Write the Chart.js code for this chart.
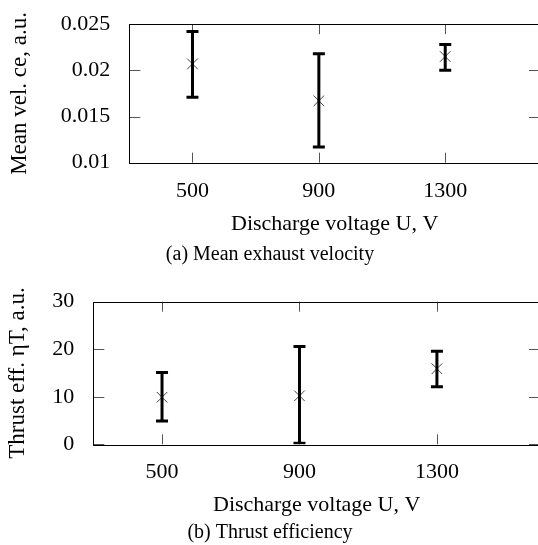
<!DOCTYPE html>
<html>
<head>
<meta charset="utf-8">
<script src="https://cdn.jsdelivr.net/npm/chart.js@4.4.0/dist/chart.umd.min.js"></script>
<style>
html, body { margin: 0; padding: 0; background: #fff; overflow: hidden; width: 538px; height: 545px; }
canvas { display: block; }
</style>
</head>
<body>
<canvas id="velChart" width="572" height="270" style="width:572px;height:270px"></canvas>
<canvas id="effChart" width="572" height="275" style="width:572px;height:275px"></canvas>
<script>
var voltages = [500, 900, 1300];

// (a) mean exhaust velocity
var velMean = [0.0207, 0.0167, 0.0215];
var velLow = [0.0171, 0.0117, 0.0200];
var velHigh = [0.0242, 0.0218, 0.0228];
var velTicks = [0.01, 0.015, 0.02, 0.025];
var velTickLabels = ['0.01', '0.015', '0.02', '0.025'];

// (b) thrust efficiency
var effMean = [9.9, 10.2, 15.9];
var effLow = [4.9, 0.2, 12.1];
var effHigh = [15.1, 20.6, 19.6];
var effTicks = [0, 10, 20, 30];
var effTickLabels = ['0', '10', '20', '30'];

var serif = 'Liberation Serif, Times New Roman, serif';

// box around the plot with inward tick marks, pgfplots style
var framePlugin = {
  id: 'frame',
  beforeDatasetsDraw: function(chart) {
    var ctx = chart.ctx, a = chart.chartArea;
    var xs = chart.scales.x, ys = chart.scales.y;
    ctx.save();
    ctx.strokeStyle = '#555';
    ctx.lineWidth = 1;
    ctx.beginPath();
    xs.ticks.forEach(function(t) {
      var px = Math.round(xs.getPixelForValue(t.value)) + 0.5;
      ctx.moveTo(px, a.bottom); ctx.lineTo(px, a.bottom - 10);
      ctx.moveTo(px, a.top); ctx.lineTo(px, a.top + 10);
    });
    ys.ticks.forEach(function(t) {
      var py = Math.round(ys.getPixelForValue(t.value)) + 0.5;
      ctx.moveTo(a.left, py); ctx.lineTo(a.left + 11, py);
      ctx.moveTo(a.right, py); ctx.lineTo(a.right - 11, py);
    });
    ctx.stroke();
    ctx.strokeStyle = '#000';
    ctx.strokeRect(Math.round(a.left) + 0.5, Math.round(a.top) + 0.5,
      Math.round(a.right - a.left), Math.round(a.bottom - a.top));
    ctx.restore();
  }
};

function barSegments(lows, highs) {
  var pts = [];
  voltages.forEach(function(v, i) {
    pts.push({x: v, y: lows[i]}, {x: v, y: highs[i]}, {x: v, y: null});
  });
  return pts;
}

function capPoints(lows, highs) {
  var pts = [];
  voltages.forEach(function(v, i) {
    pts.push({x: v, y: lows[i]}, {x: v, y: highs[i]});
  });
  return pts;
}

function makeChart(id, cfg) {
  var ctx = document.getElementById(id).getContext('2d');
  return new Chart(ctx, {
    type: 'scatter',
    data: {
      datasets: [{
        data: barSegments(cfg.low, cfg.high),
        showLine: true,
        spanGaps: false,
        borderColor: '#000',
        borderWidth: 3,
        pointRadius: 0
      }, {
        data: capPoints(cfg.low, cfg.high),
        pointStyle: 'line',
        pointRadius: 6,
        borderColor: '#000',
        borderWidth: 3
      }, {
        data: voltages.map(function(v, i) { return {x: v, y: cfg.mean[i]}; }),
        pointStyle: 'crossRot',
        pointRadius: 7.5,
        borderColor: '#444',
        borderWidth: 1
      }]
    },
    options: {
      responsive: false,
      animation: false,
      layout: { padding: { top: cfg.top, right: 32, left: 0, bottom: 0 } },
      plugins: {
        legend: { display: false },
        tooltip: { enabled: false },
        title: {
          display: true,
          position: 'bottom',
          text: cfg.caption,
          color: '#000',
          font: { family: serif, size: 20, weight: 'normal' },
          padding: { top: 0, bottom: cfg.capPad }
        }
      },
      scales: {
        x: {
          type: 'linear',
          min: 300,
          max: 1600,
          afterBuildTicks: function(s) { s.ticks = voltages.map(function(v) { return {value: v}; }); },
          afterFit: function(s) { s.height = cfg.xh; },
          grid: { display: false },
          border: { display: false },
          ticks: {
            padding: 7,
            color: '#000',
            font: { family: serif, size: 22 },
            callback: function(v) { return String(v); }
          },
          title: {
            display: true,
            text: 'Discharge voltage U, V',
            color: '#000',
            font: { family: serif, size: 22 },
            padding: { top: 0, bottom: cfg.xTitlePad }
          }
        },
        y: {
          min: cfg.ticks[0],
          max: cfg.ticks[cfg.ticks.length - 1],
          afterBuildTicks: function(s) { s.ticks = cfg.ticks.map(function(v) { return {value: v}; }); },
          afterFit: function(s) { s.width = cfg.yw; },
          grid: { display: false },
          border: { display: false },
          ticks: {
            padding: 11,
            color: '#000',
            font: { family: serif, size: 22 },
            callback: function(v, i) { return cfg.tickLabels[i]; }
          },
          title: {
            display: true,
            text: cfg.yTitle,
            color: '#000',
            font: { family: serif, size: 23 },
            padding: { top: cfg.yTitlePad, bottom: 0 }
          }
        }
      }
    },
    plugins: [framePlugin]
  });
}

var velChart = makeChart('velChart', {
  mean: velMean, low: velLow, high: velHigh,
  ticks: velTicks, tickLabels: velTickLabels,
  yTitle: 'Mean vel. ce, a.u.',
  caption: '(a) Mean exhaust velocity',
  top: 20, yw: 129.3, xh: 80.3, capPad: 3, xTitlePad: 6, yTitlePad: 6
});

var effChart = makeChart('effChart', {
  mean: effMean, low: effLow, high: effHigh,
  ticks: effTicks, tickLabels: effTickLabels,
  yTitle: 'Thrust eff. ηT, a.u.',
  caption: '(b) Thrust efficiency',
  top: 31.7, yw: 93.3, xh: 76.7, capPad: 0, xTitlePad: 3, yTitlePad: 4.5
});
</script>
</body>
</html>
